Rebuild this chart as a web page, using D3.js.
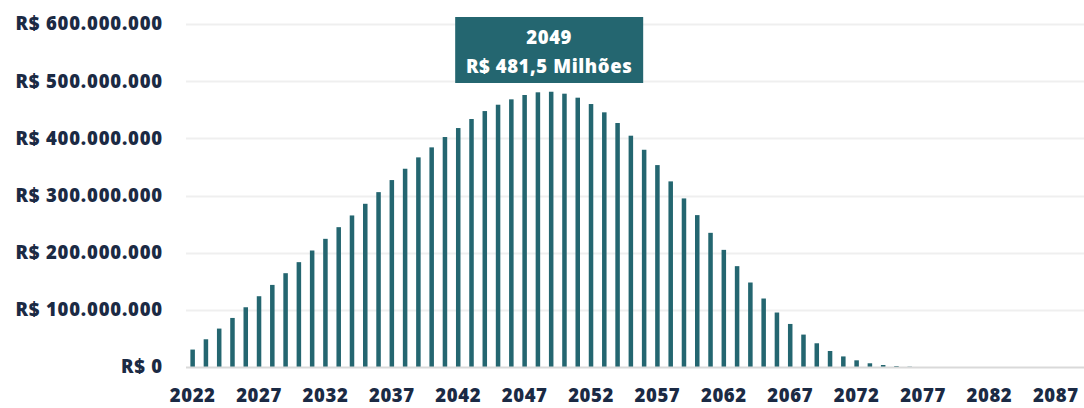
<!DOCTYPE html>
<html>
<head>
<meta charset="utf-8">
<script src="https://cdn.jsdelivr.net/npm/d3@7"></script>
<style>
  html, body { margin: 0; padding: 0; background: #fff; }
  svg { display: block; }
  text { font-family: "Open Sans", sans-serif; font-weight: 800; }
</style>
</head>
<body>
<svg id="chart" width="1084" height="408"></svg>
<script>
// anos da projeção
const years = d3.range(2022, 2090);

// valores em R$ milhões
const values = [
  30.5, 48.5, 67.2, 85.8, 104.5, 123.8, 143.6, 164.1, 183.4, 203.8,
  224.2, 244.6, 265.1, 285.5, 305.9, 327.0, 346.8, 366.7, 384.2, 402.3,
  418.0, 433.8, 447.7, 458.8, 468.2, 475.8, 480.5, 481.5, 478.1, 471.1,
  460.0, 445.5, 426.8, 404.6, 380.0, 353.2, 324.7, 294.9, 265.7, 234.7,
  204.9, 176.4, 147.8, 119.8, 95.3, 75.3, 56.7, 41.5, 28.0, 18.5,
  11.7, 6.5, 3.5, 1.7, 0.6, 0, 0, 0, 0, 0,
  0, 0, 0, 0, 0, 0, 0, 0
];

const yTicks = [0, 100, 200, 300, 400, 500, 600];
const xTickYears = d3.range(2022, 2090, 5);

const teal = '#246670';
const navy = '#1b2a44';
const font = '"Open Sans", sans-serif';

const svg = d3.select('#chart');
const margin = { left: 186, right: -5, top: 24, bottom: 41 };
const width = 1084;
const height = 408;

const x = d3.scaleBand()
  .domain(years)
  .range([margin.left, width - margin.right])
  .paddingInner(0.66)
  .paddingOuter(0.33);

const y = d3.scaleLinear()
  .domain([0, 600])
  .range([height - margin.bottom, margin.top]);

// linhas de grade
svg.append('g')
  .selectAll('line')
  .data(yTicks.filter((d) => d > 0))
  .join('line')
  .attr('x1', margin.left)
  .attr('x2', width)
  .attr('y1', (d) => Math.round(y(d)) + 0.5)
  .attr('y2', (d) => Math.round(y(d)) + 0.5)
  .attr('stroke', '#efefef')
  .attr('stroke-width', 2);

// barras
svg.append('g')
  .selectAll('rect')
  .data(years.map((yr, i) => ({ yr, v: values[i] })))
  .join('rect')
  .attr('x', (d) => x(d.yr))
  .attr('width', x.bandwidth())
  .attr('y', (d) => y(d.v))
  .attr('height', (d) => y(0) - y(d.v))
  .attr('fill', teal);

// eixo x (linha base)
svg.append('line')
  .attr('x1', margin.left)
  .attr('x2', width)
  .attr('y1', y(0) + 0.5)
  .attr('y2', y(0) + 0.5)
  .attr('stroke', '#d9d9d9')
  .attr('stroke-width', 2);

// rótulos eixo y
const fmtY = (d) => 'R$ ' + (d === 0 ? '0' : d3.format(',')(d * 1e6).replace(/,/g, '.'));
const yAxis = d3.axisLeft(y).tickValues(yTicks).tickSize(0).tickPadding(23).tickFormat(fmtY);
svg.append('g')
  .attr('transform', `translate(${margin.left},0)`)
  .call(yAxis)
  .call((g) => g.select('.domain').remove())
  .selectAll('text')
  .attr('fill', navy)
  .attr('font-size', 18.5)
  .attr('letter-spacing', 0.8)
  .attr('font-family', font);

// rótulos eixo x
const xAxis = d3.axisBottom(x).tickValues(xTickYears).tickSize(0).tickPadding(22);
svg.append('g')
  .attr('transform', `translate(0,${y(0)})`)
  .call(xAxis)
  .call((g) => g.select('.domain').remove())
  .selectAll('text')
  .attr('fill', navy)
  .attr('font-size', 18.5)
  .attr('letter-spacing', 0.6)
  .attr('font-family', font);

// destaque do pico
const peakIdx = d3.maxIndex(values);
const peakX = x(years[peakIdx]) + x.bandwidth() / 2;
const boxW = 188;
const boxH = 66;
const label = svg.append('g').attr('transform', `translate(${peakX - 2 - boxW / 2},17)`);
label.append('rect')
  .attr('width', boxW)
  .attr('height', boxH)
  .attr('fill', teal);
label.append('text')
  .attr('x', boxW / 2)
  .attr('y', 27)
  .attr('text-anchor', 'middle')
  .attr('fill', '#fff')
  .attr('font-size', 18.5)
  .attr('letter-spacing', 0.6)
  .attr('font-family', font)
  .text(years[peakIdx]);
label.append('text')
  .attr('x', boxW / 2)
  .attr('y', 56)
  .attr('text-anchor', 'middle')
  .attr('fill', '#fff')
  .attr('font-size', 18.5)
  .attr('letter-spacing', 0.6)
  .attr('font-family', font)
  .text(`R$ ${values[peakIdx].toFixed(1).replace('.', ',')} Milhões`);
</script>
</body>
</html>
